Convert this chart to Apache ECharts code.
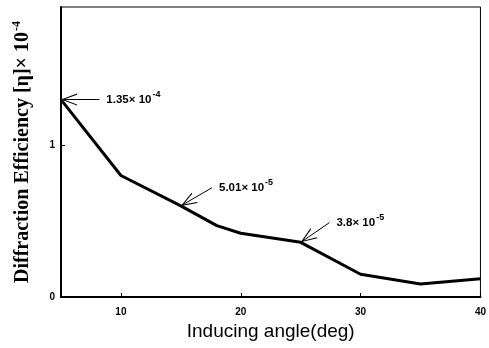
<!DOCTYPE html>
<html>
<head>
<meta charset="utf-8">
<script src="https://cdn.jsdelivr.net/npm/echarts@6/dist/echarts.min.js"></script>
<style>
  html, body { margin: 0; padding: 0; background: #fff; }
  #chart { width: 489px; height: 348px; }
</style>
</head>
<body>
<div id="chart"></div>
<script>
// inducing angle (deg) vs diffraction efficiency (x 1e-4)
const angles = [5, 10, 15, 18, 20, 25, 30, 35, 40]
const efficiency = [1.30, 0.80, 0.60, 0.47, 0.42, 0.36, 0.15, 0.085, 0.12]
const xTicks = [10, 20, 30, 40]
const yTicks = [0, 1]
// annotations: arrow from tail to tip (data point)
const noteText = [['1.35× 10', '-4'], ['5.01× 10', '-5'], ['3.8× 10', '-5']]
const noteTip = [[5, 1.30], [15, 0.60], [25, 0.36]]
const noteTail = [[8.2, 1.30], [17.6, 0.72], [27.4, 0.49]]

// open "V" arrow head pointing up; the tiny sub-path at y=-14 stretches the
// symbol box so the tip (y=0) sits in the middle, right on the data point
const arrowHead = 'path://M4.99,-14 L5.01,-14 L5,-13.99 Z M0,14 L5,0 L10,14 L9,14 L5,2.5 L1,14 Z'

let chart = echarts.init(document.getElementById('chart'))

let noteLines = noteTip.map((tip, i) => [
  { coord: noteTail[i], symbol: 'none' },
  { coord: tip, symbol: arrowHead, symbolSize: [12, 32] }
])
let notePoints = noteTail.map((tail, i) => ({
  coord: tail,
  value: i,
  label: {
    formatter: '{b|' + noteText[i][0] + '}{s|' + noteText[i][1] + '}'
  }
}))

let option = {
  backgroundColor: '#fff',
  animation: false,
  grid: {
    left: 61, right: 8, top: 7, bottom: 51,
    show: true,
    borderColor: '#000',
    borderWidth: 1
  },
  xAxis: {
    type: 'value',
    min: 5, max: 40,
    name: 'Inducing angle(deg)',
    nameLocation: 'middle',
    nameGap: 23,
    nameTextStyle: { fontFamily: 'Liberation Sans', fontSize: 19, color: '#000' },
    axisLine: { lineStyle: { color: '#000', width: 2 } },
    axisTick: { inside: true, length: 4, customValues: xTicks, lineStyle: { color: '#000' } },
    axisLabel: {
      customValues: xTicks,
      fontFamily: 'Liberation Sans', fontWeight: 'bold', fontSize: 10, color: '#000', margin: 10
    },
    splitLine: { show: false }
  },
  yAxis: {
    type: 'value',
    min: 0, max: 1.91,
    name: '{t|Diffraction Efficiency [η]× 10}{s|-4}',
    nameLocation: 'middle',
    nameGap: 26,
    nameTextStyle: {
      rich: {
        t: { fontFamily: 'Liberation Serif', fontWeight: 'bold', fontSize: 20, color: '#000' },
        s: { fontFamily: 'Liberation Serif', fontWeight: 'bold', fontSize: 12, color: '#000', padding: [0, 0, 12, 1] }
      }
    },
    axisLine: { lineStyle: { color: '#000', width: 2 } },
    axisTick: { inside: true, length: 4, customValues: yTicks, lineStyle: { color: '#000' } },
    axisLabel: {
      customValues: yTicks,
      fontFamily: 'Liberation Sans', fontWeight: 'bold', fontSize: 10, color: '#000', margin: 6
    },
    splitLine: { show: false }
  },
  series: [{
    type: 'line',
    data: angles.map((a, i) => [a, efficiency[i]]),
    showSymbol: false,
    lineStyle: { color: '#000', width: 3 },
    markLine: {
      silent: true,
      symbol: ['none', arrowHead],
      lineStyle: { color: '#000', width: 1, type: 'solid' },
      label: { show: false },
      data: noteLines
    },
    markPoint: {
      silent: true,
      symbol: 'circle',
      symbolSize: 0,
      label: {
        show: true,
        position: 'right',
        distance: 7,
        rich: {
          b: { fontFamily: 'Liberation Sans', fontWeight: 'bold', fontSize: 11.5, color: '#000' },
          s: { fontFamily: 'Liberation Sans', fontWeight: 'bold', fontSize: 9, color: '#000', padding: [0, 0, 10, 1] }
        }
      },
      data: notePoints
    }
  }]
}
chart.setOption(option)
</script>
</body>
</html>
